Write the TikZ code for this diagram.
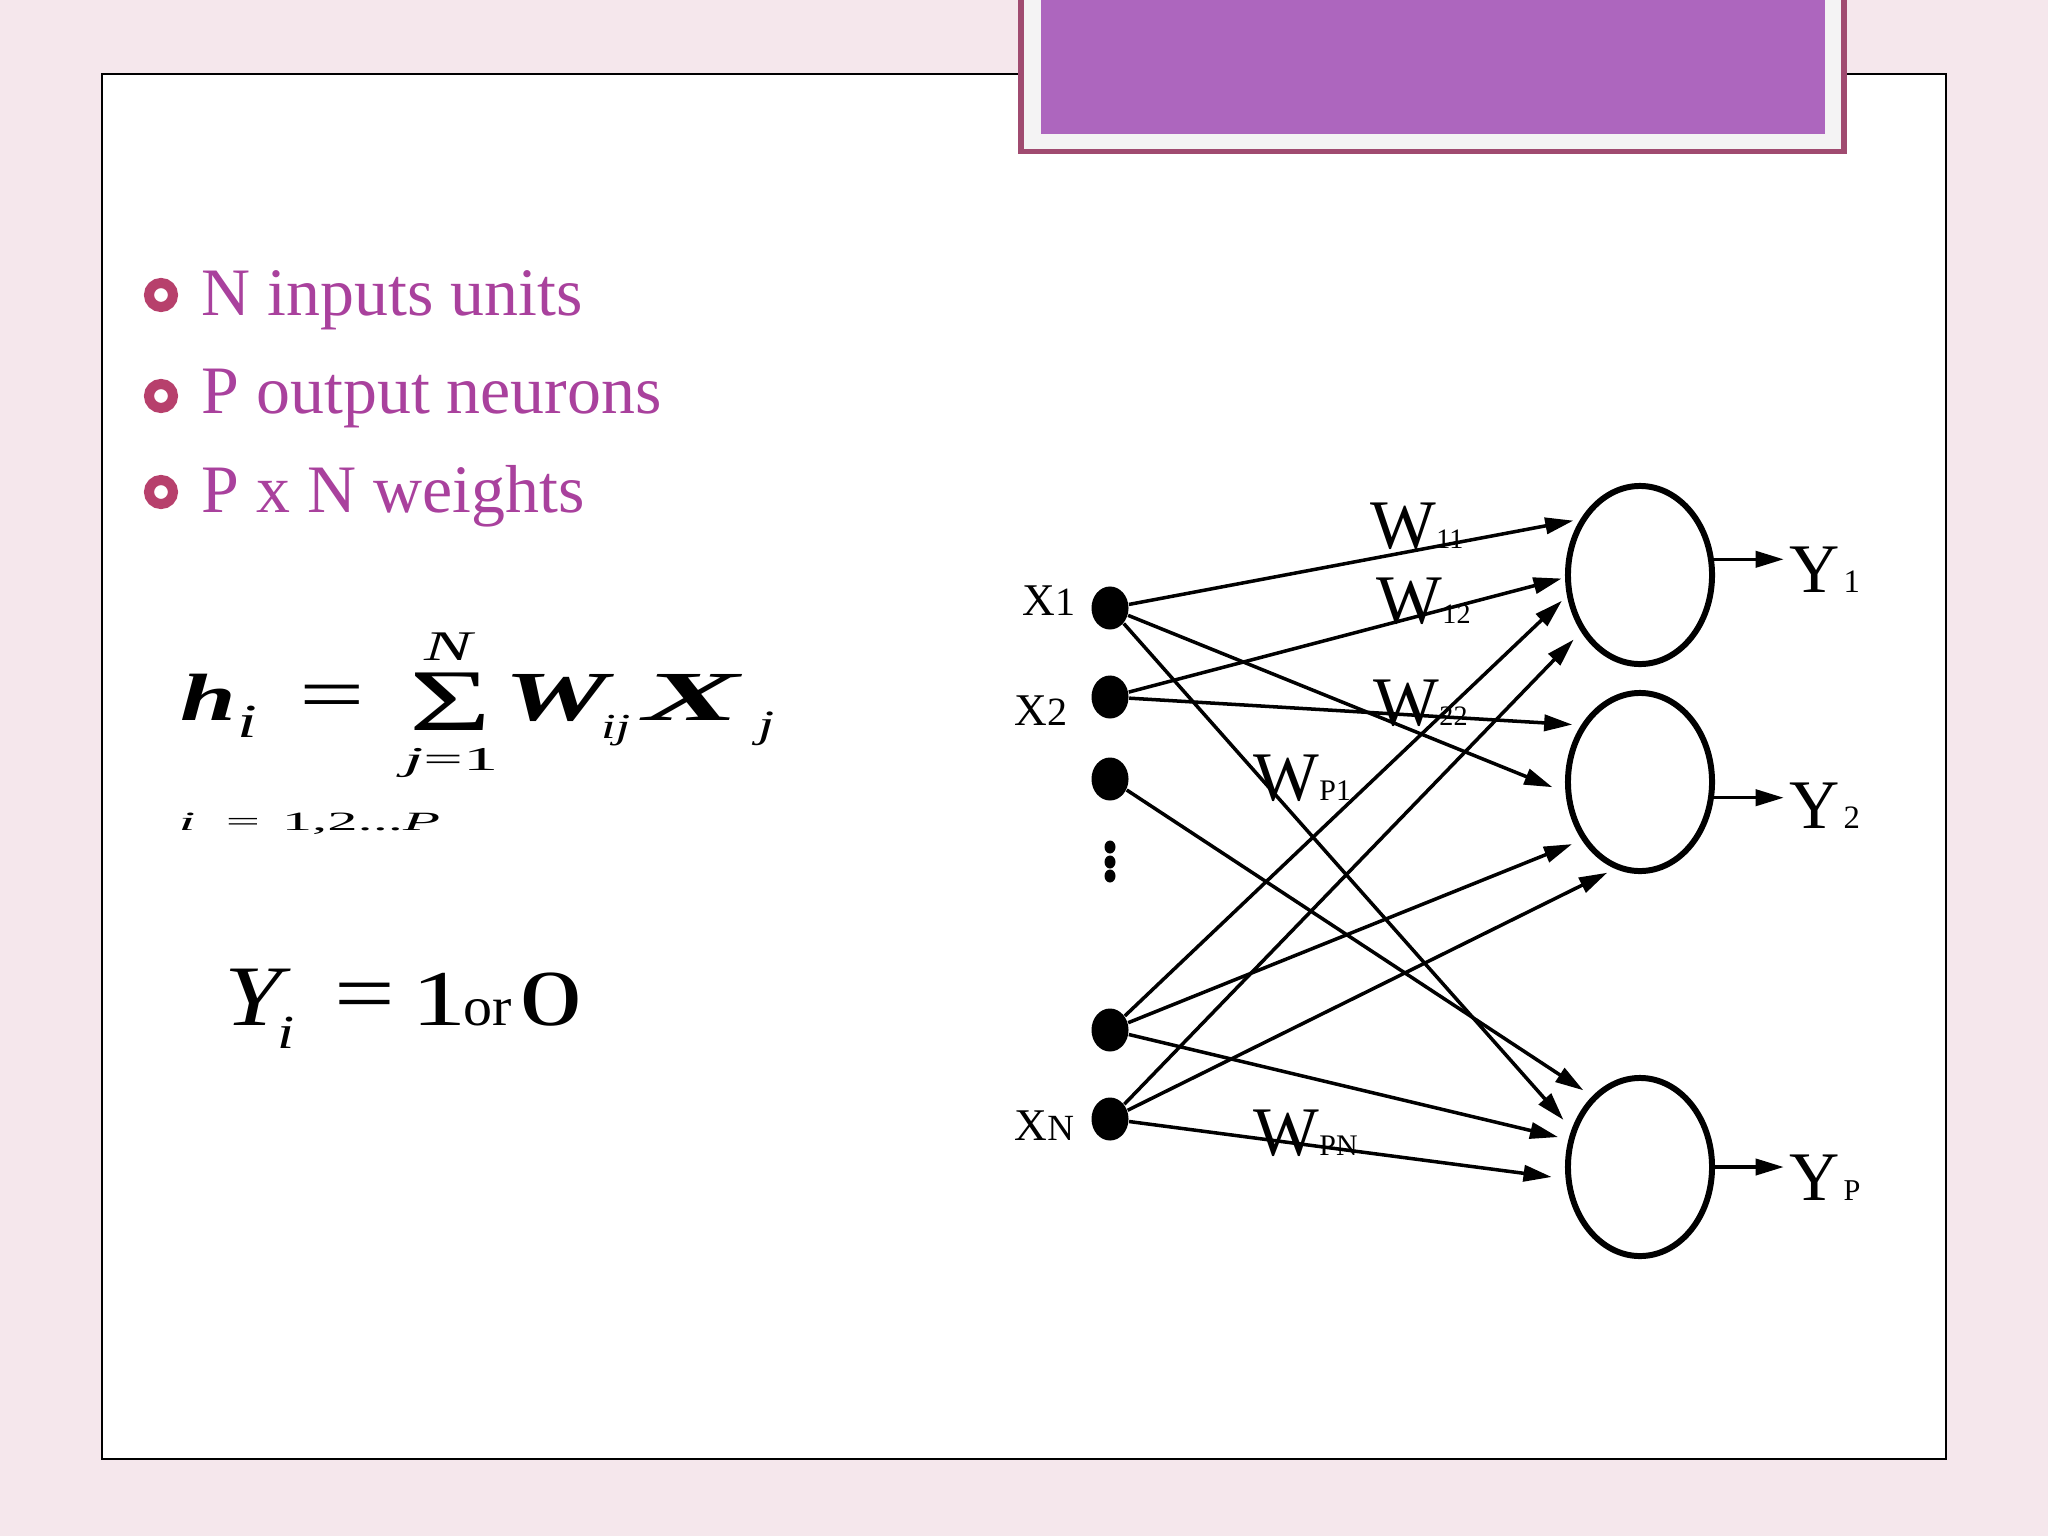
\documentclass[tikz,border=0pt]{standalone}
\usepackage{fontspec}
\setmainfont{Liberation Serif}
\usetikzlibrary{arrows.meta,shapes.geometric}

\newcommand{\fsz}[1]{\fontsize{#1}{#1}\selectfont}

\begin{document}
\begin{tikzpicture}[x=0.01cm, y=-0.01cm, >={Triangle[length=8pt,width=4.6pt]},
  txt/.style={inner sep=0pt, anchor=base west},
  mathsym/.style={inner sep=0pt},
  bulletring/.style={circle, draw=bulletcolor, line width=2.85pt, minimum size=0.24cm, inner sep=0pt},
  itemtext/.style={txt, text=textcolor, font=\fsz{19.3}},
  inunit/.style={ellipse, fill=black, inner sep=0pt, minimum width=0.37cm, minimum height=0.43cm},
  outunit/.style={ellipse, draw, line width=1.7pt, inner sep=0pt, minimum width=1.44cm, minimum height=1.78cm},
  netlabel/.style={txt, font=\fsz{19.8}},
  inlabel/.style={txt, font=\fsz{12.9}},
  weightline/.style={->, line width=1pt}]

  % Colors
  \definecolor{slidebg}{HTML}{F5E7EC}
  \definecolor{bulletcolor}{HTML}{B7406C}
  \definecolor{textcolor}{HTML}{A9419D}
  \definecolor{tabframe}{HTML}{A04B70}
  \definecolor{tabpale}{HTML}{F4F3F4}
  \definecolor{tabfill}{HTML}{AD66BE}

  % Slide background and frame
  \useasboundingbox (0,0) rectangle (2048,1536);
  \fill[slidebg] (0,0) rectangle (2048,1536);
  \draw[fill=white, line width=0.6pt] (102,74) rectangle (1946,1459);

  % Title tab (empty)
  \fill[tabframe] (1018,-5) rectangle (1847,154);
  \fill[tabpale] (1024,-5) rectangle (1841,149);
  \fill[tabfill] (1041,-5) rectangle (1825,134);

  % Bullet list
  \foreach \i/\yb/\yt/\bultext in {1/295/315/N inputs units, 2/396/413/P output neurons, 3/492/512/P x N weights} {
    \node[bulletring] (bullet\i) at (161,\yb) {};
    \node[itemtext] (item\i) at (201,\yt) {\bultext};
  }

  % Formula h_i = sum W_ij X_j
  \node[txt, xscale=1.5, font=\fsz{19}\bfseries\itshape] (hvar) at (179,720) {h};
  \node[txt, xscale=1.5, font=\fsz{13.5}\itshape] (hsub) at (236,737) {i};
  \node[mathsym, xscale=1.5, font=\fsz{22}] (heq) at (332,703) {=};
  \node[mathsym, xscale=1.6, font=\fsz{25}] (hsum) at (450,702) {Σ};
  \node[mathsym, xscale=1.7, font=\fsz{12}\itshape] (hsumtop) at (448,647) {N};
  \node[mathsym, anchor=base, xscale=2.1, font=\fsz{9.5}] (hsumbot) at (451,770) {\textit{j}=1};
  \node[txt, xscale=1.65, font=\fsz{20}\bfseries\itshape] (hw) at (503,720) {W};
  \node[txt, xscale=1.5, font=\fsz{10}\itshape] (hwsub) at (600,738) {ij};
  \node[txt, xscale=2.05, font=\fsz{20}\bfseries\itshape] (hx) at (642,720) {X};
  \node[txt, xscale=1.5, font=\fsz{11}\itshape] (hxsub) at (757,737) {j};
  \node[txt, xscale=2.3, font=\fsz{7.5}] (hrange) at (177,830) {\textit{i}\hspace{0.5em}=\hspace{0.36em}1,2...\textit{P}};

  % Output rule Y_i = 1 or 0
  \node[txt, xscale=1.2, font=\fsz{24.5}\itshape] (yvar) at (224,1025) {Y};
  \node[txt, xscale=1.3, font=\fsz{13.5}\itshape] (ysub) at (277,1048) {i};
  \node[mathsym, xscale=1.25, font=\fsz{24.5}] (yeq) at (365,1003) {=};
  \node[txt, xscale=1.4, font=\fsz{22.5}] (yone) at (411,1025) {1};
  \node[txt, xscale=1.05, font=\fsz{15.7}] (yor) at (463,1025) {or};
  \node[txt, xscale=1.6, font=\fsz{22.5}] (yzero) at (518,1025) {0};

  % Input units
  \node[inunit] (x1) at (1110,608) {};
  \node[inunit] (x2) at (1110,697) {};
  \node[inunit] (x3) at (1110,779) {};
  \node[inunit] (x4) at (1110,1030) {};
  \node[inunit] (xn) at (1110,1119) {};
  \foreach \y in {847,862,876}
    \fill (1110,\y) ellipse [x radius=5.5, y radius=6.5];

  % Output neurons
  \node[outunit] (y1) at (1640,575) {};
  \node[outunit] (y2) at (1640,782) {};
  \node[outunit] (yp) at (1640,1167) {};

  % Unit labels
  \node[inlabel] (lx1) at (1022,615) {X{\fsz{11.4}1}};
  \node[inlabel] (lx2) at (1014,725) {X{\fsz{11.4}2}};
  \node[inlabel] (lxn) at (1014,1140) {X{\fsz{10.5}N}};
  \node[netlabel] (ly1) at (1789,592) {Y\kern1pt{\fsz{9.3}1}};
  \node[netlabel] (ly2) at (1789,828) {Y\kern1pt{\fsz{9.3}2}};
  \node[netlabel] (lyp) at (1789,1200) {Y\kern1pt{\fsz{8.6}P}};

  % Weight labels
  \node[netlabel] (w11) at (1370,548) {W{\fsz{8}11}};
  \node[netlabel] (w12) at (1376,623) {W{\fsz{8}12}};
  \node[netlabel] (w22) at (1373,725) {W{\fsz{8}22}};
  \node[netlabel] (wp1) at (1253,800) {W{\fsz{8.5}P1}};
  \node[netlabel] (wpn) at (1253,1155) {W{\fsz{8.5}PN}};

  % Weights
  \foreach \s/\t/\g in {x1/y1.137/2pt, x1/y2.188/4pt, x1/yp.151/3.5pt,
                        x2/y1.182/1pt, x2/y2.136/2.5pt, x3/yp.124/3pt,
                        x4/y1.196/2pt, x4/y2.225/3pt, x4/yp.159/3pt,
                        xn/y1.224/3pt, xn/y2.254/2.5pt, xn/yp.189/4pt}
    \draw[weightline, shorten >=\g] (\s) -- (\t);

  % Outputs
  \foreach \o/\a in {y1/12, y2/-12, yp/0}
    \draw[weightline, shorten >=1.5pt] (\o.\a) -- (\o.\a -| l\o.west);

\end{tikzpicture}
\end{document}
